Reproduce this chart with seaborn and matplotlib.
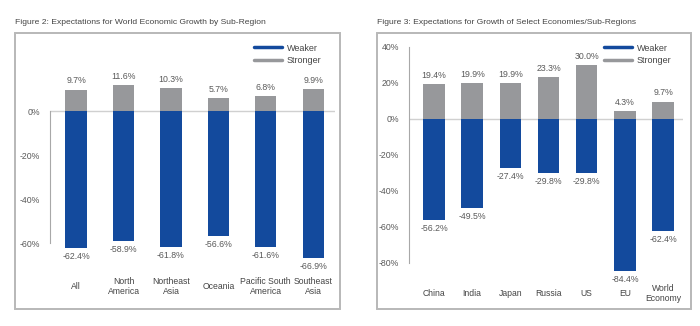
import matplotlib
matplotlib.use("Agg")
import matplotlib.pyplot as plt
import seaborn as sns
import pandas as pd
from matplotlib.lines import Line2D
from matplotlib.patches import Rectangle

# ---- data ----
regions = ["All", "North\nAmerica", "Northeast\nAsia", "Oceania", "Pacific South\nAmerica", "Southeast\nAsia"]
regions_stronger = [9.7, 11.6, 10.3, 5.7, 6.8, 9.9]
regions_weaker = [-62.4, -58.9, -61.8, -56.6, -61.6, -66.9]

economies = ["China", "India", "Japan", "Russia", "US", "EU", "World\nEconomy"]
econ_stronger = [19.4, 19.9, 19.9, 23.3, 30.0, 4.3, 9.7]
econ_weaker = [-56.2, -49.5, -27.4, -29.8, -29.8, -84.4, -62.4]

title_left = "Figure 2: Expectations for World Economic Growth by Sub-Region"
title_right = "Figure 3: Expectations for Growth of Select Economies/Sub-Regions"
left_ticks = [0, -20, -40, -60]
right_ticks = [40, 20, 0, -20, -40, -60, -80]

BLUE = "#134a9d"
GRAY = "#97989b"
TXT = "#5a5a5a"

sns.set_theme(style="white")
plt.rcParams["font.family"] = ["Liberation Sans", "DejaVu Sans"]

W, H = 700, 326
fig = plt.figure(figsize=(7, 3.26), dpi=100)


def px_axes(l, t, r, b):
    return fig.add_axes([l / W, 1 - b / H, (r - l) / W, (b - t) / H])


def panel(ax, cats, strong, weak, width, xlim, ylim, ticks, spine_bounds, pad, leg_x):
    df_s = pd.DataFrame({"cat": cats, "val": strong})
    df_w = pd.DataFrame({"cat": cats, "val": weak})
    sns.barplot(data=df_s, x="cat", y="val", order=cats, color=GRAY, width=width,
                saturation=1, ax=ax, linewidth=0, zorder=2)
    sns.barplot(data=df_w, x="cat", y="val", order=cats, color=BLUE, width=width,
                saturation=1, ax=ax, linewidth=0, zorder=2)
    for i, (s, w) in enumerate(zip(strong, weak)):
        ax.annotate(f"{s:.1f}%", (i, s), xytext=(0, 3), textcoords="offset points",
                    ha="center", va="bottom", fontsize=6.3, color=TXT, annotation_clip=False)
        ax.annotate(f"{w:.1f}%", (i, w), xytext=(0, -3), textcoords="offset points",
                    ha="center", va="top", fontsize=6.3, color=TXT, annotation_clip=False)
    ax.axhline(0, color="#d0d0d0", lw=1, zorder=1)
    ax.set_xlim(*xlim)
    ax.set_ylim(*ylim)
    ax.set_yticks(ticks)
    ax.set_yticklabels([f"{t}%" for t in ticks], fontsize=6.3, color=TXT)
    ax.set_xticks(range(len(cats)))
    ax.set_xticklabels(cats, fontsize=6.2, color="#444444",
                       va="center", linespacing=1.15)
    ax.tick_params(axis="x", length=0, pad=pad)
    ax.tick_params(axis="y", length=0, pad=7)
    ax.set_xlabel("")
    ax.set_ylabel("")
    for s in ["top", "right", "bottom"]:
        ax.spines[s].set_visible(False)
    ax.spines["left"].set_color("#a8a8a8")
    ax.spines["left"].set_linewidth(0.8)
    ax.spines["left"].set_bounds(*spine_bounds)
    ax.patch.set_alpha(0)
    handles = [Line2D([0], [0], color=BLUE, lw=2.5), Line2D([0], [0], color=GRAY, lw=2.5)]
    leg = ax.legend(handles, ["Weaker", "Stronger"], loc="upper right", frameon=False,
                    fontsize=6.5, handlelength=3.1, handletextpad=0.5, labelspacing=0.35,
                    borderaxespad=0, bbox_to_anchor=(leg_x, 1.0))
    for t in leg.get_texts():
        t.set_color("#444444")


# left panel: 0 at y=111px, 2.2 px per %
axL = px_axes(50, 40, 335, 275)
panel(axL, regions, regions_stronger, regions_weaker, 0.45,
      (-0.55, 5.46), (-(275 - 111) / 2.2, (111 - 40) / 2.2), left_ticks, (-60, 0), 8.6, 0.965)

# right panel: 0 at y=119px, 1.8 px per %
axR = px_axes(409, 40, 683, 282)
panel(axR, economies, econ_stronger, econ_weaker, 0.56,
      (-0.654, 6.52), (-(282 - 119) / 1.8, (119 - 40) / 1.8), right_ticks, (-80, 40), 8.0, 0.97)

# frames
for (l, t, r, b) in [(15, 33, 340, 309), (377, 33, 691, 309)]:
    fig.patches.append(Rectangle((l / W, 1 - b / H), (r - l) / W, (b - t) / H,
                                 transform=fig.transFigure, fill=False,
                                 edgecolor="#b8b8b8", lw=1.4))

fig.text(15 / W, 1 - 22 / H, title_left, fontsize=6.1, color="#444444", va="center", ha="left")
fig.text(377 / W, 1 - 22 / H, title_right, fontsize=6.1, color="#444444", va="center", ha="left")

fig.savefig("out.png", dpi=100)
